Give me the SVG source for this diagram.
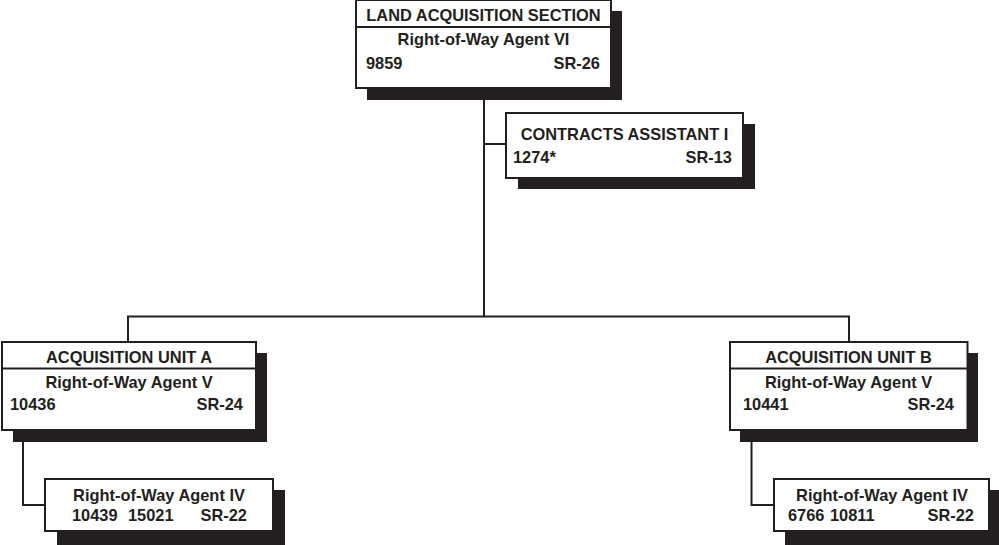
<svg xmlns="http://www.w3.org/2000/svg" width="999" height="545" viewBox="0 0 999 545">
<style>
  .box { fill: #ffffff; stroke: #231f20; stroke-width: 2; }
  .shadow { fill: #231f20; stroke: none; }
  .div { stroke: #231f20; stroke-width: 2; fill: none; }
  .conn { stroke: #231f20; stroke-width: 2; fill: none; }
  text { font-family: "Liberation Sans", Arial, Helvetica, sans-serif; font-weight: bold; font-size: 16.4px; fill: #231f20; }
  .c { text-anchor: middle; }
  .r { text-anchor: end; }
</style>
<rect width="999" height="545" fill="#ffffff"/>
<g id="connectors">
  <line class="conn" x1="484" y1="88" x2="484" y2="316.5"/>
  <line class="conn" x1="484" y1="144" x2="506" y2="144"/>
  <polyline class="conn" points="128,342 128,316.5 849,316.5 849,342"/>
  <polyline class="conn" points="23,430 23,505 45,505"/>
  <polyline class="conn" points="751.5,430 751.5,505 774,505"/>
</g>
<g id="land-acquisition-section">
  <rect class="shadow" x="367" y="11" width="255" height="89"/>
  <rect class="box" x="356" y="0" width="255" height="88"/>
  <line class="div" x1="356" y1="27" x2="611" y2="27"/>
  <text class="c" x="483.5" y="21">LAND ACQUISITION SECTION</text>
  <text class="c" x="483.5" y="45">Right-of-Way Agent VI</text>
  <text x="366" y="69">9859</text>
  <text class="r" x="600" y="69">SR-26</text>
</g>
<g id="contracts-assistant">
  <rect class="shadow" x="518" y="124" width="237" height="65"/>
  <rect class="box" x="506" y="113" width="237" height="65"/>
  <text class="c" x="624.5" y="140">CONTRACTS ASSISTANT I</text>
  <text x="513" y="163">1274*</text>
  <text class="r" x="732" y="163">SR-13</text>
</g>
<g id="acquisition-unit-a">
  <rect class="shadow" x="13" y="353" width="254" height="89"/>
  <rect class="box" x="2" y="342" width="254" height="88"/>
  <line class="div" x1="2" y1="368.5" x2="256" y2="368.5"/>
  <text class="c" x="129" y="363">ACQUISITION UNIT A</text>
  <text class="c" x="129" y="387.5">Right-of-Way Agent V</text>
  <text x="10" y="410">10436</text>
  <text class="r" x="243" y="410">SR-24</text>
</g>
<g id="agent-iv-a">
  <rect class="shadow" x="57" y="490" width="228" height="60"/>
  <rect class="box" x="45" y="479" width="228" height="52"/>
  <text class="c" x="159" y="500.5">Right-of-Way Agent IV</text>
  <text x="72" y="521">10439</text>
  <text x="128" y="521">15021</text>
  <text class="r" x="247" y="521">SR-22</text>
</g>
<g id="acquisition-unit-b">
  <rect class="shadow" x="740" y="353" width="238" height="89"/>
  <rect class="box" x="730" y="342" width="237.5" height="88"/>
  <line class="div" x1="730" y1="368.5" x2="967.5" y2="368.5"/>
  <text class="c" x="848.5" y="363">ACQUISITION UNIT B</text>
  <text class="c" x="848.5" y="387.5">Right-of-Way Agent V</text>
  <text x="743" y="410">10441</text>
  <text class="r" x="954" y="410">SR-24</text>
</g>
<g id="agent-iv-b">
  <rect class="shadow" x="785" y="490" width="214" height="60"/>
  <rect class="box" x="774" y="479" width="215" height="52"/>
  <text class="c" x="882" y="500.5">Right-of-Way Agent IV</text>
  <text x="788" y="521">6766</text>
  <text x="830" y="521">10811</text>
  <text class="r" x="974" y="521">SR-22</text>
</g>
</svg>
